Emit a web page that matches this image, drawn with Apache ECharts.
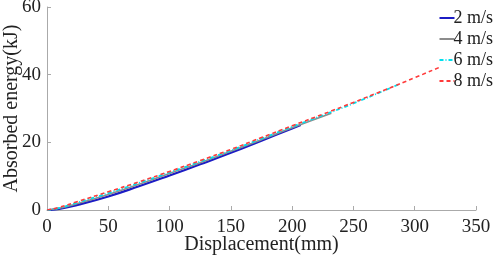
<!DOCTYPE html>
<html>
<head>
<meta charset="utf-8">
<script src="https://cdn.jsdelivr.net/npm/echarts@6/dist/echarts.min.js"></script>
<style>
  html, body { margin: 0; padding: 0; background: #fff; }
  #chart { width: 498px; height: 255px; }
</style>
</head>
<body>
<div id="chart"></div>
<script>
// values (displacement mm, energy kJ)
var disp2 = [0, 10, 25, 50, 75, 100, 125, 150, 175, 200, 207];
var energy2 = [0, 0.3, 1.5, 4.0, 7.0, 10.2, 13.5, 16.9, 20.5, 24.1, 25.1];

var disp4 = [0, 10, 25, 50, 75, 100, 125, 150, 175, 200, 232];
var energy4 = [0, 0.5, 1.9, 4.6, 7.6, 10.8, 14.0, 17.4, 20.8, 24.3, 28.6];

var disp6 = [0, 10, 25, 50, 75, 100, 125, 150, 175, 200, 225, 250, 288];
var energy6 = [0, 0.6, 2.2, 5.0, 8.0, 11.1, 14.3, 17.6, 21.1, 24.6, 28.0, 31.5, 37.3];

var disp8 = [0, 10, 25, 50, 75, 100, 125, 150, 175, 200, 225, 250, 275, 300, 321];
var energy8 = [0, 0.8, 2.5, 5.4, 8.3, 11.4, 14.6, 17.9, 21.4, 24.9, 28.3, 31.8, 35.4, 39.1, 42.3];

var seriesNames = ['2 m/s', '4 m/s', '6 m/s', '8 m/s'];
var xTicks = [0, 50, 100, 150, 200, 250, 300, 350];
var yTicks = [0, 20, 40, 60];

function pairs(xs, ys) {
    var out = [];
    for (var i = 0; i < xs.length; i++) {
        out.push([xs[i], ys[i]]);
    }
    return out;
}

var font = "'Liberation Serif', 'Times New Roman', serif";
var textColor = '#222';

var myChart = echarts.init(document.getElementById('chart'));
var option = {
    animation: false,
    backgroundColor: '#fff',
    grid: { left: 47, right: 22, top: 7, bottom: 45, outerBoundsMode: 'none', containLabel: false },
    legend: {
        right: 0,
        top: 4,
        orient: 'vertical',
        itemGap: 3,
        itemWidth: 15,
        itemHeight: 10,
        itemStyle: { opacity: 0 },
        textStyle: { fontFamily: font, fontSize: 18, color: textColor, padding: [0, 0, 0, -6] },
        data: seriesNames
    },
    xAxis: {
        type: 'value',
        min: xTicks[0],
        max: xTicks[xTicks.length - 1],
        interval: 50,
        name: 'Displacement(mm)',
        nameLocation: 'middle',
        nameGap: 25,
        nameMoveOverlap: false,
        nameTextStyle: { fontFamily: font, fontSize: 20, color: textColor },
        axisLine: { lineStyle: { color: '#aaa', width: 1 } },
        axisTick: { inside: true, length: 4, lineStyle: { color: '#aaa' } },
        axisLabel: { fontFamily: font, fontSize: 19, color: textColor, margin: 8 },
        splitLine: { show: false }
    },
    yAxis: {
        type: 'value',
        min: yTicks[0],
        max: yTicks[yTicks.length - 1],
        interval: 20,
        name: 'Absorbed energy(kJ)',
        nameLocation: 'middle',
        nameGap: 25,
        nameMoveOverlap: false,
        nameTextStyle: { fontFamily: font, fontSize: 20, color: textColor },
        axisLine: { show: true, lineStyle: { color: '#aaa', width: 1 } },
        axisTick: { show: true, inside: true, length: 4, lineStyle: { color: '#aaa' } },
        axisLabel: { fontFamily: font, fontSize: 19, color: textColor, margin: 6 },
        splitLine: { show: false }
    },
    series: [
        {
            name: seriesNames[0], type: 'line', symbol: 'none', smooth: true,
            lineStyle: { color: '#1c1cc4', width: 2.2, type: 'solid' },
            itemStyle: { color: '#1c1cc4' },
            data: pairs(disp2, energy2)
        },
        {
            name: seriesNames[1], type: 'line', symbol: 'none', smooth: true,
            lineStyle: { color: '#8c8c8c', width: 1.6, type: 'solid' },
            itemStyle: { color: '#8c8c8c' },
            data: pairs(disp4, energy4)
        },
        {
            name: seriesNames[2], type: 'line', symbol: 'none', smooth: true,
            lineStyle: { color: '#00e0ee', width: 1.8, type: [4, 2, 1, 2] },
            itemStyle: { color: '#00e0ee' },
            data: pairs(disp6, energy6)
        },
        {
            name: seriesNames[3], type: 'line', symbol: 'none', smooth: true,
            lineStyle: { color: '#ff3a3a', width: 1.6, type: [4, 3] },
            itemStyle: { color: '#ff3a3a' },
            data: pairs(disp8, energy8)
        }
    ]
};
myChart.setOption(option);
</script>
</body>
</html>
